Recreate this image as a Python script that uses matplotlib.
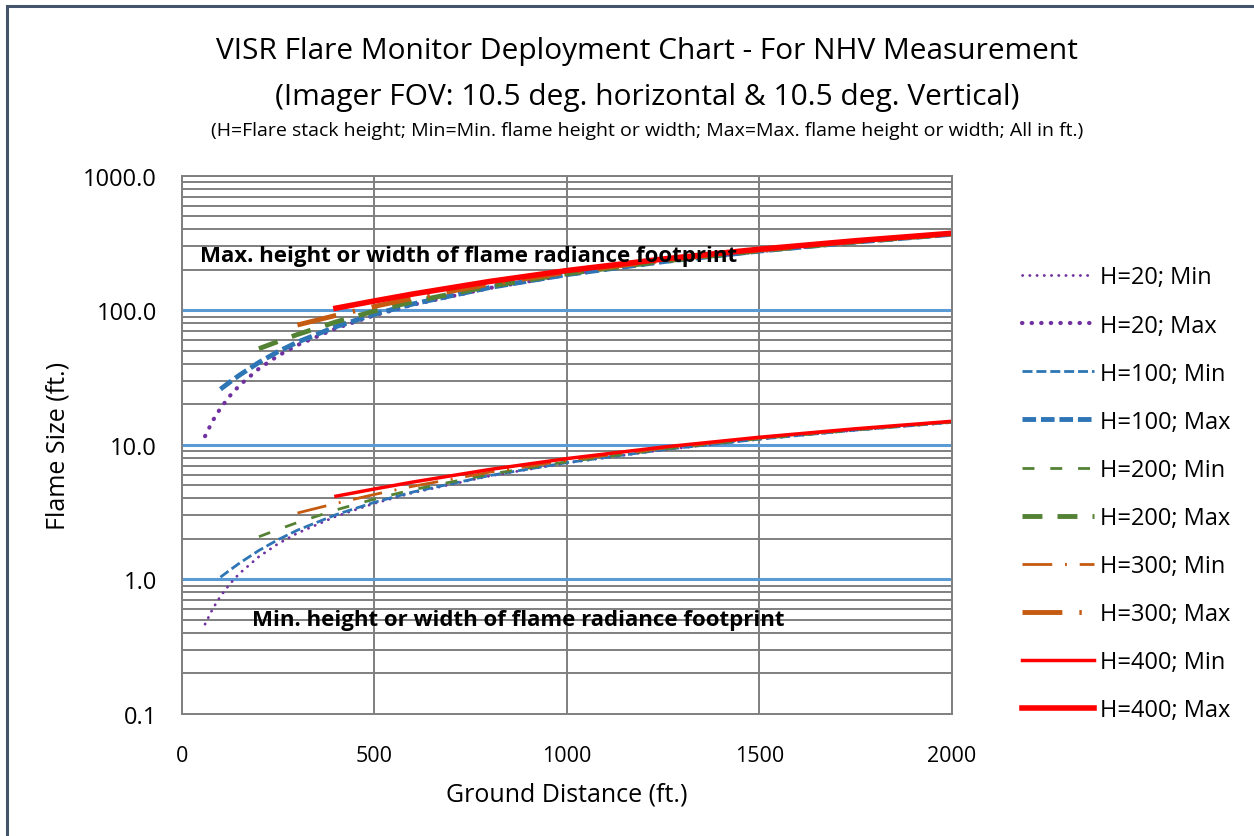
import matplotlib.pyplot as plt
from matplotlib.patches import Rectangle

# ground distance (ft) and flame size (ft)
x_h20 = [60, 80, 100, 125, 150, 200, 250, 300, 400, 500, 600, 800, 1000, 1250, 1500, 1750, 2000]
h20_max = [11.62, 15.15, 18.74, 23.26, 27.81, 36.94, 46.09, 55.26, 73.60, 91.96, 110.33, 147.07, 183.82, 229.75, 275.69, 321.63, 367.58]
h20_min = [0.465, 0.606, 0.750, 0.930, 1.112, 1.478, 1.844, 2.210, 2.944, 3.678, 4.413, 5.883, 7.353, 9.190, 11.028, 12.865, 14.703]

x_h100 = [100, 125, 150, 200, 250, 300, 400, 500, 600, 800, 1000, 1250, 1500, 1750, 2000]
h100_max = [25.99, 29.42, 33.13, 41.09, 49.48, 58.12, 75.77, 93.71, 111.79, 148.17, 184.70, 230.46, 276.28, 322.14, 368.03]
h100_min = [1.040, 1.177, 1.325, 1.644, 1.979, 2.325, 3.031, 3.748, 4.472, 5.927, 7.388, 9.218, 11.051, 12.886, 14.721]

x_h200 = [200, 250, 300, 400, 500, 600, 800, 1000, 1250, 1500, 1750, 2000]
h200_max = [51.98, 58.84, 66.26, 82.19, 98.97, 116.23, 151.55, 187.42, 232.65, 278.11, 323.71, 369.39]
h200_min = [2.079, 2.354, 2.650, 3.288, 3.959, 4.649, 6.062, 7.497, 9.306, 11.124, 12.948, 14.776]

x_h300 = [300, 400, 500, 600, 800, 1000, 1250, 1500, 1750, 2000]
h300_max = [77.97, 91.89, 107.16, 123.28, 157.02, 191.87, 236.25, 281.13, 326.31, 371.67]
h300_min = [3.119, 3.676, 4.286, 4.931, 6.281, 7.675, 9.450, 11.245, 13.052, 14.867]

x_h400 = [400, 500, 600, 800, 1000, 1250, 1500, 1750, 2000]
h400_max = [103.96, 117.68, 132.53, 164.38, 197.94, 241.20, 285.30, 329.91, 374.84]
h400_min = [4.158, 4.707, 5.301, 6.575, 7.918, 9.648, 11.412, 13.196, 14.994]

y_ticks = [0.1, 1, 10, 100, 1000]
y_tick_labels = ['0.1', '1.0', '10.0', '100.0', '1000.0']
x_ticks = [0, 500, 1000, 1500, 2000]

plt.rcParams['font.family'] = ['Open Sans', 'DejaVu Sans']

fig = plt.figure(figsize=(12.54, 8.37), dpi=100)
ax = fig.add_axes([0.1451, 0.1458, 0.6140, 0.6428])

purple = '#7030A0'
blue = '#2E75B6'
green = '#548235'
orange = '#C55A11'
red = '#FF0000'

ax.plot(x_h20, h20_min, color=purple, lw=2, dashes=(0.1, 2.5), dash_capstyle='round', label='H=20; Min')
ax.plot(x_h20, h20_max, color=purple, lw=3, dashes=(0.1, 2.2), dash_capstyle='round', label='H=20; Max')
ax.plot(x_h100, h100_min, color=blue, lw=2, dashes=(3.6, 1.4), label='H=100; Min')
ax.plot(x_h100, h100_max, color=blue, lw=3.5, dashes=(2.8, 1.0), label='H=100; Max')
ax.plot(x_h200, h200_min, color=green, lw=2, dashes=(4.3, 5.7), label='H=200; Min')
ax.plot(x_h200, h200_max, color=green, lw=3.5, dashes=(4.1, 3.1), label='H=200; Max')
ax.plot(x_h300, h300_min, color=orange, lw=2, dashes=(10.7, 4.6, 0.7, 4.6), label='H=300; Min')
ax.plot(x_h300, h300_max, color=orange, lw=3.5, dashes=(8.2, 3.5, 0.5, 3.5), label='H=300; Max')
ax.plot(x_h400, h400_min, color=red, lw=2.5, label='H=400; Min')
ax.plot(x_h400, h400_max, color=red, lw=4, label='H=400; Max')

ax.set_yscale('log')
ax.set_xlim(0, 2000)
ax.set_ylim(0.1, 1000)
ax.set_xticks(x_ticks)
ax.set_yticks(y_ticks)
ax.set_yticklabels(y_tick_labels)
ax.minorticks_on()
ax.xaxis.set_minor_locator(plt.NullLocator())
ax.tick_params(which='both', length=0)
ax.tick_params(axis='x', labelsize=15.5, pad=22)
ax.tick_params(axis='y', labelsize=17, pad=18)

ax.grid(True, which='minor', axis='y', color='#7F7F7F', lw=1.4)
ax.grid(True, which='major', axis='x', color='#7F7F7F', lw=1.4)
for v in [1, 10, 100]:
    ax.axhline(v, color='#5B9BD5', lw=2.2, zorder=1.5)
ax.axhline(1000, color='#7F7F7F', lw=1.4, zorder=1.5)
ax.set_axisbelow(True)
for s in ax.spines.values():
    s.set_color('#7F7F7F')
    s.set_linewidth(1.4)

ax.set_xlabel('Ground Distance (ft.)', fontsize=18)
ax.xaxis.set_label_coords(0.5, -0.125)
ax.set_ylabel('Flame Size (ft.)', fontsize=18)
ax.yaxis.set_label_coords(-0.145, 0.5)

ax.text(47, 254, 'Max. height or width of flame radiance footprint', fontsize=16,
        fontweight='bold', va='center', ha='left', zorder=5)
ax.text(182, 0.5, 'Min. height or width of flame radiance footprint', fontsize=16,
        fontweight='bold', va='center', ha='left', zorder=5)

fig.text(0.516, 0.938, 'VISR Flare Monitor Deployment Chart - For NHV Measurement',
         fontsize=21.5, ha='center', va='center')
fig.text(0.516, 0.884, '(Imager FOV: 10.5 deg. horizontal & 10.5 deg. Vertical)',
         fontsize=21.5, ha='center', va='center')
fig.text(0.516, 0.844, '(H=Flare stack height; Min=Min. flame height or width; Max=Max. flame height or width; All in ft.)',
         fontsize=14, ha='center', va='center')

fig.legend(loc='upper left', bbox_to_anchor=(0.798, 0.707), frameon=False,
           fontsize=17, handlelength=3.05, handletextpad=0.25, labelspacing=1.02)

fig.patches.append(Rectangle((0.0056, -0.05), 1.1, 1.0416, transform=fig.transFigure,
                             fill=False, edgecolor='#44546A', lw=2.2))

fig.savefig('out.png', dpi=100)
